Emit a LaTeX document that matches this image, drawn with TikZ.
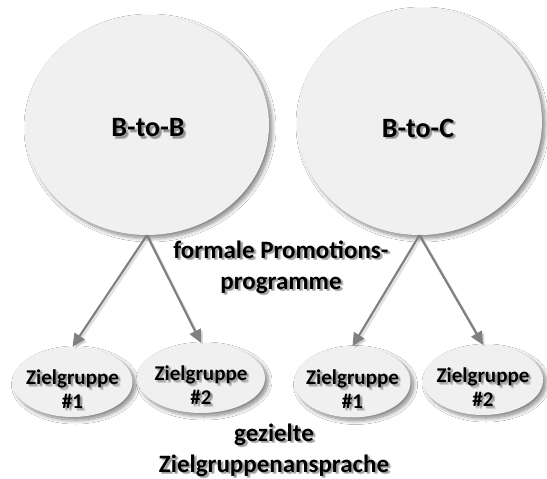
\documentclass[tikz,border=0pt]{standalone}
\usepackage{fontspec}
\setmainfont{Carlito}
\usetikzlibrary{shapes.geometric,arrows.meta,shadows.blur}

\definecolor{discfill}{HTML}{F0F0F0}
\definecolor{arrowgrey}{HTML}{808080}

\tikzset{
  disc/.style={ellipse, fill=discfill, draw=none, inner sep=0pt,
    blur shadow={shadow xshift=3pt, shadow yshift=-3pt,
      shadow blur radius=4pt, shadow blur steps=12, shadow opacity=50}},
  conn/.style={draw=arrowgrey, line width=2.2pt,
    -{Triangle[length=13pt,width=12pt]}},
  connshade/.style={conn, draw=black, opacity=0.12,
    transform canvas={shift={(2pt,-2pt)}}},
  labeltext/.style={align=center, inner sep=0pt, text=black},
  bigtext/.style={font=\bfseries\fontsize{28}{34}\selectfont},
  midtext/.style={font=\bfseries\fontsize{25}{31}\selectfont},
  smalltext/.style={font=\bfseries\fontsize{21}{24}\selectfont},
}

% bold label with a soft drop shadow: name, style, x, y, text
\newcommand\castlabel[5]{%
  \foreach \dx/\dy in {1.6/2.2,2.8/2.8,2.4/1.6}{%
    \node[labeltext,#2,text opacity=0.15] at ({#3+\dx},{#4+\dy}) {#5};}%
  \node[labeltext,#2] (#1) at (#3,#4) {#5};%
}

\begin{document}
\begin{tikzpicture}[x=1pt,y=-1pt]
  \useasboundingbox (0,0) rectangle (547,479);
  \fill[white] (0,0) rectangle (547,479);

  % market circles
  \node[disc, minimum width=244pt, minimum height=220pt] (btb) at (147,125) {};
  \node[disc, minimum width=245pt, minimum height=227pt] (btc) at (419.5,121.5) {};

  % target group ellipses
  \node[disc, minimum width=120pt, minimum height=70pt] (z1) at (72.5,382) {};
  \node[disc, minimum width=128pt, minimum height=70pt] (z2) at (201,378) {};
  \node[disc, minimum width=116pt, minimum height=71pt] (z3) at (352.5,382) {};
  \node[disc, minimum width=120pt, minimum height=70pt] (z4) at (483,380) {};

  % connectors with their shadows
  \draw[connshade] (btb.south) -- (z1.north);
  \draw[connshade] (btb.south) -- (z2.north);
  \draw[connshade] (btc.south) -- (z3.north);
  \draw[connshade] (btc.south) -- (z4.north);
  \draw[conn] (btb.south) -- (z1.north);
  \draw[conn] (btb.south) -- (z2.north);
  \draw[conn] (btc.south) -- (z3.north);
  \draw[conn] (btc.south) -- (z4.north);

  % texts
  \castlabel{tbtb}{bigtext}{148}{128}{B-to-B}
  \castlabel{tbtc}{bigtext}{418}{128}{B-to-C}
  \castlabel{tform}{midtext}{281}{267}{formale Promotions-\\programme}
  \castlabel{tz1}{smalltext}{72.5}{389}{Zielgruppe\\\#1}
  \castlabel{tz2}{smalltext}{201}{385}{Zielgruppe\\\#2}
  \castlabel{tz3}{smalltext}{352.5}{389}{Zielgruppe\\\#1}
  \castlabel{tz4}{smalltext}{483}{387}{Zielgruppe\\\#2}
  \castlabel{tgez}{midtext}{274}{450}{gezielte\\Zielgruppenansprache}
\end{tikzpicture}
\end{document}
